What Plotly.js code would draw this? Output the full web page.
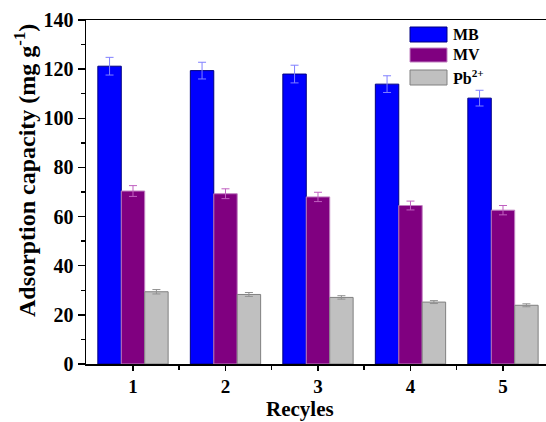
<!DOCTYPE html>
<html>
<head>
<meta charset="utf-8">
<script src="https://cdn.plot.ly/plotly-3.0.1.min.js"></script>
<style>html,body{margin:0;padding:0;background:#fff;}#chart{width:546px;height:422px;}</style>
</head>
<body>
<div id="chart"></div>
<script>
const cycles = [1, 2, 3, 4, 5];
const seriesNames = ['MB', 'MV', 'Pb<sup>2+</sup>'];
const mbValues = [121.2, 119.4, 118.0, 113.9, 108.2];
const mbErrors = [3.6, 3.4, 3.6, 3.4, 3.2];
const mvValues = [70.4, 69.3, 68.0, 64.5, 62.6];
const mvErrors = [2.2, 2.0, 1.9, 1.8, 1.9];
const pbValues = [29.4, 28.3, 27.1, 25.2, 23.9];
const pbErrors = [0.9, 0.8, 0.7, 0.6, 0.6];
const yTicks = [0, 20, 40, 60, 80, 100, 120, 140];

const fills = ['#0000ff', '#800080', '#c0c0c0'];
const edges = ['#000080', '#c080c0', '#808080'];
const errCols = ['#8080ff', '#c060c0', '#909090'];
const vals = [mbValues, mvValues, pbValues];
const errs = [mbErrors, mvErrors, pbErrors];

const fontFam = '"Liberation Serif", "Times New Roman", serif';

const traces = vals.map((v, i) => ({
  type: 'bar',
  x: cycles,
  y: v,
  name: seriesNames[i],
  marker: {color: fills[i], line: {color: edges[i], width: 1}},
  error_y: {type: 'data', array: errs[i], visible: true, color: errCols[i], thickness: 1, width: 4},
  showlegend: false
}));

// custom legend (large swatches)
const legX0 = (410 - 86) / 460, legX1 = (447 - 86) / 460, legTx = (451 - 86) / 460;
const legRows = [[27, 42], [48, 62], [70, 85]];
const shapes = [];
const annotations = [];
legRows.forEach((r, i) => {
  const y0 = (364 - r[1]) / 344, y1 = (364 - r[0]) / 344;
  shapes.push({type: 'rect', xref: 'paper', yref: 'paper', x0: legX0, x1: legX1, y0: y0, y1: y1,
    fillcolor: fills[i], line: {color: edges[i], width: 1}});
  annotations.push({xref: 'paper', yref: 'paper', x: legTx, y: (y0 + y1) / 2, xanchor: 'left', yanchor: 'middle',
    text: '<b>' + seriesNames[i] + '</b>', showarrow: false, font: {family: fontFam, size: 16, color: '#000'}});
});
annotations.push({xref: 'paper', yref: 'paper', x: (25 - 86) / 460, y: (364 - 171) / 344, xanchor: 'center', yanchor: 'middle',
  textangle: -90, text: '<b>Adsorption capacity (mg g<sup>-1</sup>)</b>', showarrow: false,
  font: {family: fontFam, size: 24, color: '#000'}});
annotations.push({xref: 'paper', yref: 'paper', x: (300 - 86) / 460, y: (364 - 409) / 344, xanchor: 'center', yanchor: 'middle',
  text: '<b>Recyles</b>', showarrow: false, font: {family: fontFam, size: 21, color: '#000'}});

const layout = {
  width: 546, height: 422,
  margin: {l: 86, r: 0, t: 20, b: 58, pad: 0},
  paper_bgcolor: '#fff', plot_bgcolor: '#fff',
  barmode: 'group', bargap: 0.24, bargroupgap: 0,
  font: {family: fontFam, color: '#000'},
  xaxis: {
    range: [0.492, 5.465], tickvals: cycles, ticktext: cycles.map(c => '<b>' + c + '</b>'),
    ticks: 'outside', ticklen: 5, tickwidth: 1.5, tickcolor: '#000',
    minor: {tickvals: [1.5, 2.5, 3.5, 4.5], ticks: 'outside', ticklen: 4, tickwidth: 1.5, tickcolor: '#000'},
    showline: true, linecolor: '#000', linewidth: 1.5, mirror: true,
    showgrid: false, zeroline: false,
    tickfont: {family: fontFam, size: 19, color: '#000'}
  },
  yaxis: {
    range: [0, 140], tickvals: yTicks, ticktext: yTicks.map(t => '<b>' + t + '</b>'),
    ticks: 'outside', ticklen: 7, tickwidth: 1.5, tickcolor: '#000',
    minor: {dtick: 10, tick0: 0, ticks: 'outside', ticklen: 4, tickwidth: 1.5, tickcolor: '#000'},
    showline: true, linecolor: '#000', linewidth: 1.5,
    showgrid: false, zeroline: false,
    tickfont: {family: fontFam, size: 20, color: '#000'}
  },
  shapes: shapes,
  annotations: annotations
};

Plotly.newPlot('chart', traces, layout, {displayModeBar: false, staticPlot: true});
</script>
</body>
</html>
